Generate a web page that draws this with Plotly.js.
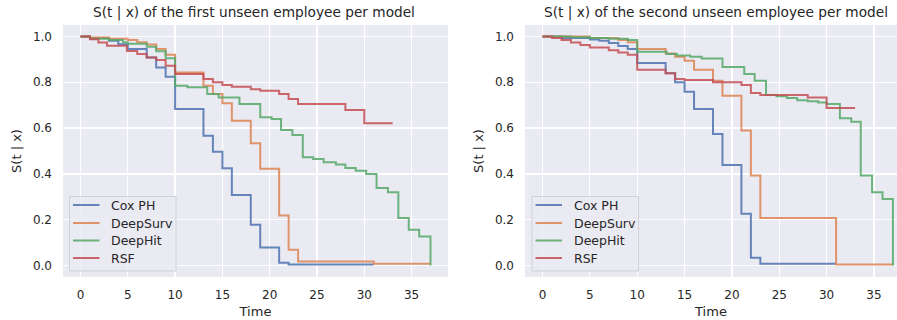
<!DOCTYPE html>
<html>
<head>
<meta charset="utf-8">
<script src="https://cdn.plot.ly/plotly-3.0.1.min.js"></script>
<style>
  html, body { margin: 0; padding: 0; background: #ffffff; }
  #chart { width: 897px; height: 320px; }
</style>
</head>
<body>
<div id="chart"></div>
<script>
// Survival curves S(t | x) per model, for two unseen employees.
const models = ["Cox PH", "DeepSurv", "DeepHit", "RSF"];
const colors = ["#4C72B0", "#DD8452", "#55A868", "#C44E52"];

// First employee
const firstCoxT = [0, 1, 3, 4, 5, 7, 8, 9, 10, 13, 14, 15, 16, 18, 19, 21, 22, 31];
const firstCoxS = [1.0, 0.993, 0.981, 0.966, 0.945, 0.908, 0.865, 0.824, 0.683, 0.567, 0.497, 0.425, 0.308, 0.178, 0.079, 0.012, 0.005, 0.005];

const firstDeepSurvT = [0, 1, 3, 5, 6, 7, 8, 9, 10, 13, 14, 15, 16, 18, 19, 21, 22, 23, 31, 37];
const firstDeepSurvS = [1.0, 0.995, 0.99, 0.985, 0.975, 0.965, 0.945, 0.92, 0.843, 0.785, 0.749, 0.708, 0.632, 0.534, 0.422, 0.218, 0.069, 0.018, 0.008, 0.008];

const firstDeepHitT = [0, 1, 3, 4.5, 5, 7, 8, 9, 10, 11.3, 13.4, 14.6, 16.8, 19, 20.2, 21.2, 22.4, 23.5, 24.6, 25.7, 27, 28, 29.1, 30.2, 31.3, 32.5, 33.6, 34.7, 35.8, 37];
const firstDeepHitS = [1.0, 0.99, 0.985, 0.975, 0.968, 0.955, 0.935, 0.905, 0.785, 0.778, 0.749, 0.734, 0.705, 0.647, 0.64, 0.592, 0.57, 0.473, 0.465, 0.451, 0.441, 0.426, 0.414, 0.40, 0.339, 0.32, 0.208, 0.156, 0.127, 0.0];

const firstRsfT = [0, 1, 1.9, 2.8, 4.9, 6, 7, 8, 9, 10, 13, 14, 15, 16, 18, 19, 21, 22, 23, 28, 30, 33];
const firstRsfS = [1.0, 0.988, 0.974, 0.959, 0.937, 0.923, 0.908, 0.897, 0.872, 0.836, 0.814, 0.80, 0.788, 0.78, 0.77, 0.763, 0.749, 0.727, 0.705, 0.679, 0.621, 0.621];

// Second employee
const secondCoxT = [0, 2, 5, 6, 7, 8, 9, 10, 13, 14, 15, 16, 18, 19, 21, 22, 23, 31];
const secondCoxS = [1.0, 0.993, 0.987, 0.981, 0.971, 0.958, 0.945, 0.884, 0.839, 0.80, 0.759, 0.683, 0.574, 0.439, 0.226, 0.034, 0.008, 0.008];

const secondDeepSurvT = [0, 5, 8, 9, 10, 13, 14, 15, 16, 18, 19, 21, 22, 23, 31, 37];
const secondDeepSurvS = [1.0, 0.993, 0.984, 0.975, 0.945, 0.926, 0.911, 0.894, 0.855, 0.807, 0.741, 0.589, 0.393, 0.208, 0.005, 0.005];

const secondDeepHitT = [0, 3, 5, 7, 9, 10, 13.1, 14.2, 15.6, 16.8, 19, 21.3, 22.4, 23.6, 24.7, 25.8, 26.9, 28, 29.1, 30, 31.4, 32.6, 33.6, 34.8, 35.9, 37];
const secondDeepHitS = [1.0, 0.997, 0.993, 0.99, 0.985, 0.933, 0.923, 0.917, 0.911, 0.904, 0.867, 0.836, 0.807, 0.744, 0.739, 0.731, 0.722, 0.717, 0.712, 0.705, 0.643, 0.628, 0.393, 0.32, 0.291, 0.0];

const secondRsfT = [0, 1, 2, 3, 4, 5, 7, 8, 9, 10, 13, 14, 15, 18, 21, 22, 23, 28, 30, 33];
const secondRsfS = [1.0, 0.993, 0.985, 0.974, 0.963, 0.952, 0.94, 0.93, 0.92, 0.855, 0.839, 0.814, 0.81, 0.80, 0.788, 0.753, 0.744, 0.734, 0.688, 0.688];

const xTicks = [0, 5, 10, 15, 20, 25, 30, 35];
const yTicks = [0.0, 0.2, 0.4, 0.6, 0.8, 1.0];
const yTickText = ["0.0", "0.2", "0.4", "0.6", "0.8", "1.0"];

const panelTitles = [
  "S(t | x) of the first unseen employee per model",
  "S(t | x) of the second unseen employee per model"
];

const firstSeries = [
  [firstCoxT, firstCoxS], [firstDeepSurvT, firstDeepSurvS],
  [firstDeepHitT, firstDeepHitS], [firstRsfT, firstRsfS]
];
const secondSeries = [
  [secondCoxT, secondCoxS], [secondDeepSurvT, secondDeepSurvS],
  [secondDeepHitT, secondDeepHitS], [secondRsfT, secondRsfS]
];

const FONT = "DejaVu Sans, Liberation Sans, sans-serif";
const TEXT = "#262626";
const W = 897, H = 320;
const M = { l: 63, r: 0, t: 25, b: 43 };
const plotW = W - M.l - M.r, plotH = H - M.t - M.b;

// pixel -> paper coordinates (used for the legend boxes)
const px = v => (v - M.l) / plotW;
const py = v => (H - M.b - v) / plotH;

const traces = [];
firstSeries.forEach(([t, s], i) => traces.push({
  x: t, y: s, type: "scatter", mode: "lines",
  line: { shape: "hv", color: colors[i], width: 2 },
  opacity: 0.85, name: models[i], xaxis: "x", yaxis: "y", showlegend: false
}));
secondSeries.forEach(([t, s], i) => traces.push({
  x: t, y: s, type: "scatter", mode: "lines",
  line: { shape: "hv", color: colors[i], width: 2 },
  opacity: 0.85, name: models[i], xaxis: "x2", yaxis: "y2", showlegend: false
}));

function xAxis(domain, range, anchor) {
  return {
    domain: domain, range: range, anchor: anchor,
    tickmode: "array", tickvals: xTicks, ticktext: xTicks.map(String),
    showgrid: true, gridcolor: "#ffffff", gridwidth: 1.2,
    zeroline: false, showline: false, ticks: "", ticklabelstandoff: 9,
    tickfont: { family: FONT, size: 12, color: TEXT },
    title: { text: "Time", font: { family: FONT, size: 13, color: TEXT }, standoff: 5 }
  };
}
function yAxis(anchor) {
  return {
    domain: [0, 1], range: [-0.05, 1.05], anchor: anchor,
    tickmode: "array", tickvals: yTicks, ticktext: yTickText,
    showgrid: true, gridcolor: "#ffffff", gridwidth: 1.2,
    zeroline: false, showline: false, ticks: "", ticklabelstandoff: 10,
    tickfont: { family: FONT, size: 12, color: TEXT },
    title: { text: "S(t | x)", font: { family: FONT, size: 13, color: TEXT }, standoff: 8 }
  };
}

// Legend drawn as a rounded box with line samples and labels.
const shapes = [];
const annotations = [];
function roundedRect(x0, y0, x1, y1, r) {
  return `M${x0 + r},${y0} L${x1 - r},${y0} Q${x1},${y0} ${x1},${y0 + r} ` +
         `L${x1},${y1 - r} Q${x1},${y1} ${x1 - r},${y1} L${x0 + r},${y1} ` +
         `Q${x0},${y1} ${x0},${y1 - r} L${x0},${y0 + r} Q${x0},${y0} ${x0 + r},${y0} Z`;
}
function addLegend(boxLeft, boxRight) {
  const top = 196.5, bottom = 271;
  shapes.push({
    type: "path", xref: "paper", yref: "paper", layer: "above",
    path: roundedRect(px(boxLeft), py(bottom), px(boxRight), py(top), 0),
    fillcolor: "rgba(234,234,242,0.8)", line: { color: "#d0d0d8", width: 1 }
  });
  const rows = [205, 223, 240.5, 258];
  models.forEach((name, i) => {
    shapes.push({
      type: "line", xref: "paper", yref: "paper", layer: "above",
      x0: px(boxLeft + 3.5), x1: px(boxLeft + 30), y0: py(rows[i]), y1: py(rows[i]),
      line: { color: colors[i], width: 2 }, opacity: 0.85
    });
    annotations.push({
      text: name, xref: "paper", yref: "paper",
      x: px(boxLeft + 39.5), y: py(rows[i]), xanchor: "left", yanchor: "middle",
      showarrow: false, font: { family: FONT, size: 12.5, color: TEXT }
    });
  });
}
addLegend(69.5, 176);
addLegend(532, 638.5);

annotations.push(
  { text: panelTitles[0], xref: "paper", yref: "paper", x: px(254), y: 1, yshift: 13,
    xanchor: "center", yanchor: "middle", showarrow: false,
    font: { family: FONT, size: 13.7, color: TEXT } },
  { text: panelTitles[1], xref: "paper", yref: "paper", x: px(716), y: 1, yshift: 13,
    xanchor: "center", yanchor: "middle", showarrow: false,
    font: { family: FONT, size: 13.7, color: TEXT } }
);

const layout = {
  width: W, height: H,
  margin: M,
  paper_bgcolor: "#ffffff", plot_bgcolor: "#EAEAF2",
  showlegend: false,
  xaxis: xAxis([0, px(448)], [-1.85, 38.85], "y"),
  yaxis: yAxis("x"),
  xaxis2: xAxis([px(525), 1], [-1.85, 37.43], "y2"),
  yaxis2: yAxis("x2"),
  shapes: shapes,
  annotations: annotations
};

Plotly.newPlot("chart", traces, layout, { displayModeBar: false, staticPlot: true });
</script>
</body>
</html>
